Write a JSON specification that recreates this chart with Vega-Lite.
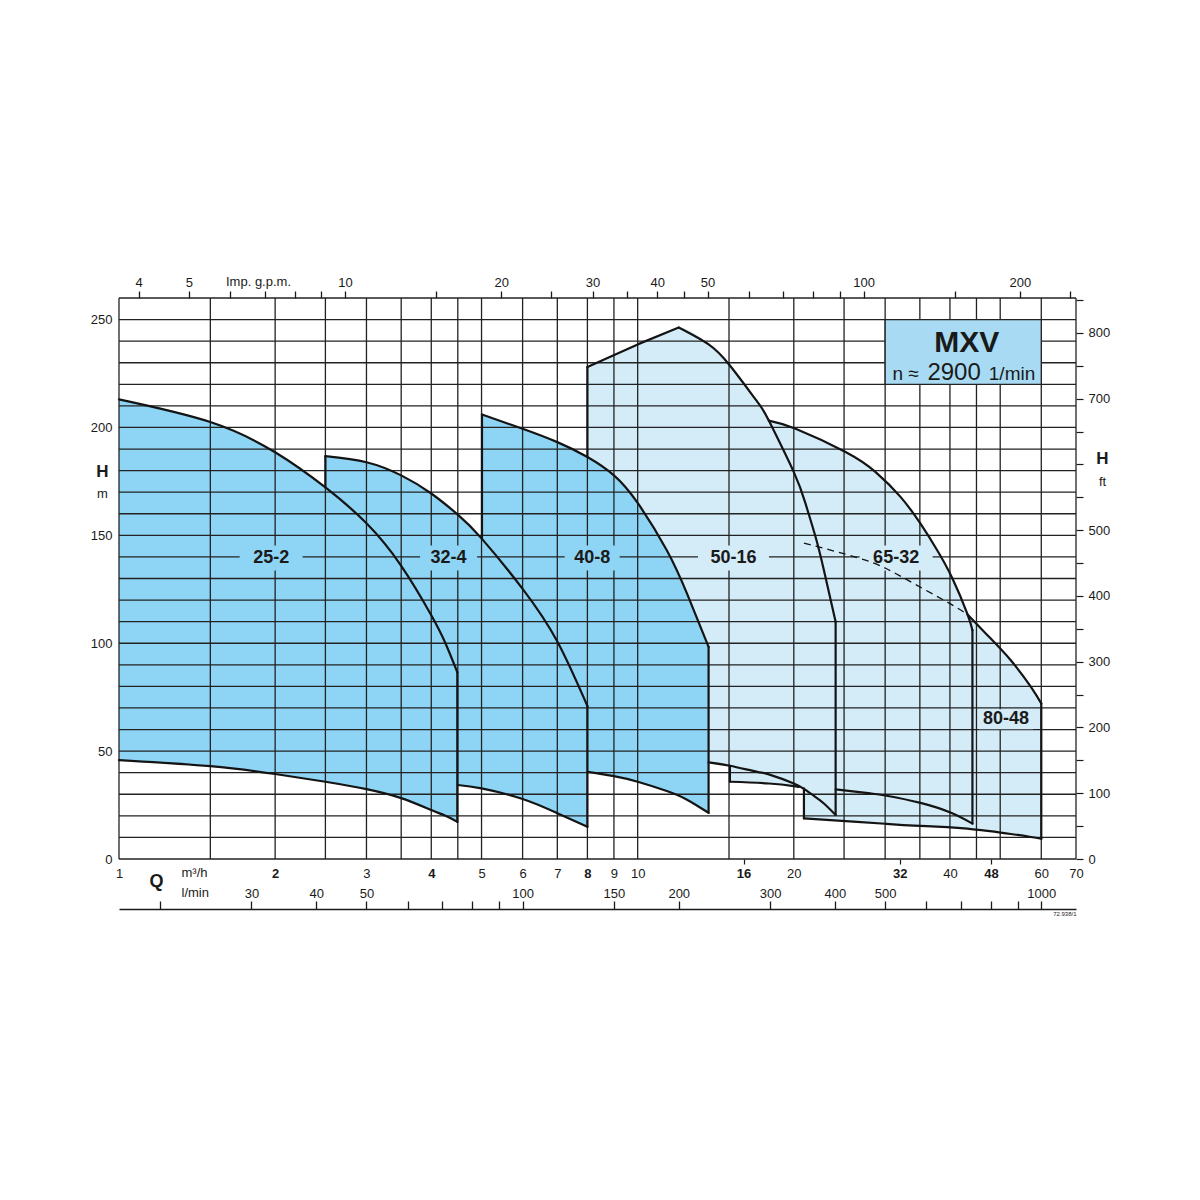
{
  "$schema": "https://vega.github.io/schema/vega-lite/v6.json",
  "width": 957,
  "height": 561,
  "autosize": {"type": "none"},
  "padding": {"left": 119, "top": 298, "right": 124, "bottom": 341},
  "background": "white",
  "config": {
    "view": {"stroke": null},
    "font": "Liberation Sans",
    "axis": {"labelFont": "Liberation Sans", "titleFont": "Liberation Sans", "labelColor": "#1a1a1a", "titleColor": "#1a1a1a", "grid": false, "labelOverlap": false, "labelFlush": false, "labelFontSize": 13}
  },
  "datasets": {
    "fillLight": [
      {"series": "50-16", "Q": 8, "hi": 228, "lo": 52},
      {"series": "50-16", "Q": 9, "hi": 233.5, "lo": 50.5},
      {"series": "50-16", "Q": 10, "hi": 238.5, "lo": 49},
      {"series": "50-16", "Q": 11, "hi": 242.4, "lo": 47.5},
      {"series": "50-16", "Q": 12, "hi": 246.3, "lo": 46.3},
      {"series": "50-16", "Q": 13.66, "hi": 238.7, "lo": 44.8},
      {"series": "50-16", "Q": 15.06, "hi": 228.7, "lo": 43.2},
      {"series": "50-16", "Q": 17, "hi": 212, "lo": 40.4},
      {"series": "50-16", "Q": 17.9, "hi": 203.2, "lo": 39.2},
      {"series": "50-16", "Q": 20, "hi": 179.3, "lo": 35},
      {"series": "50-16", "Q": 21.07, "hi": 164.7, "lo": 32.0},
      {"series": "50-16", "Q": 22.03, "hi": 149.2, "lo": 28.7},
      {"series": "50-16", "Q": 22.86, "hi": 133.8, "lo": 25.7},
      {"series": "50-16", "Q": 24.08, "hi": 110, "lo": 20.4},
      {"series": "65-32", "Q": 15.06, "hi": 206, "lo": 35.8},
      {"series": "65-32", "Q": 17.9, "hi": 203.2, "lo": 35.0},
      {"series": "65-32", "Q": 20.16, "hi": 199.4, "lo": 33.8},
      {"series": "65-32", "Q": 25.17, "hi": 188.6, "lo": 31.9},
      {"series": "65-32", "Q": 28.76, "hi": 179.3, "lo": 30.3},
      {"series": "65-32", "Q": 32.15, "hi": 167.7, "lo": 28.3},
      {"series": "65-32", "Q": 35.1, "hi": 155.4, "lo": 26.0},
      {"series": "65-32", "Q": 37.8, "hi": 143.1, "lo": 24.0},
      {"series": "65-32", "Q": 40.45, "hi": 130, "lo": 21.2},
      {"series": "65-32", "Q": 43.2, "hi": 113.7, "lo": 18.2},
      {"series": "65-32", "Q": 44.2, "hi": 106, "lo": 16.4},
      {"series": "80-48", "Q": 20.92, "hi": 146.4, "lo": 18.8},
      {"series": "80-48", "Q": 26.5, "hi": 139.7, "lo": 17.2},
      {"series": "80-48", "Q": 30.2, "hi": 134.5, "lo": 16.3},
      {"series": "80-48", "Q": 34.1, "hi": 127.6, "lo": 15.5},
      {"series": "80-48", "Q": 39.5, "hi": 119.1, "lo": 14.8},
      {"series": "80-48", "Q": 43.2, "hi": 113.4, "lo": 14.1},
      {"series": "80-48", "Q": 47.25, "hi": 103.7, "lo": 13.0},
      {"series": "80-48", "Q": 52.4, "hi": 92.1, "lo": 11.6},
      {"series": "80-48", "Q": 57.3, "hi": 79.8, "lo": 10.2},
      {"series": "80-48", "Q": 60, "hi": 72.1, "lo": 9.4}
    ],
    "fillDark": [
      {"series": "25-2", "Q": 1, "hi": 213, "lo": 45.8},
      {"series": "25-2", "Q": 1.5, "hi": 202.5, "lo": 43},
      {"series": "25-2", "Q": 2, "hi": 188.5, "lo": 39.4},
      {"series": "25-2", "Q": 2.5, "hi": 172.2, "lo": 35.8},
      {"series": "25-2", "Q": 3, "hi": 155.6, "lo": 32.4},
      {"series": "25-2", "Q": 3.5, "hi": 135.9, "lo": 28.2},
      {"series": "25-2", "Q": 4, "hi": 113, "lo": 22.7},
      {"series": "25-2", "Q": 4.26, "hi": 100.0, "lo": 20.0},
      {"series": "25-2", "Q": 4.49, "hi": 86.6, "lo": 17.2},
      {"series": "32-4", "Q": 2.5, "hi": 186.7, "lo": 48},
      {"series": "32-4", "Q": 3, "hi": 183.9, "lo": 43},
      {"series": "32-4", "Q": 3.5, "hi": 177.8, "lo": 39},
      {"series": "32-4", "Q": 4, "hi": 169.4, "lo": 36.5},
      {"series": "32-4", "Q": 4.5, "hi": 159.6, "lo": 34.3},
      {"series": "32-4", "Q": 5, "hi": 148.6, "lo": 32.7},
      {"series": "32-4", "Q": 6, "hi": 125.2, "lo": 27.8},
      {"series": "32-4", "Q": 7, "hi": 100.8, "lo": 21.2},
      {"series": "32-4", "Q": 8, "hi": 70.9, "lo": 14.9},
      {"series": "40-8", "Q": 5.01, "hi": 206, "lo": 46},
      {"series": "40-8", "Q": 6, "hi": 199.4, "lo": 44},
      {"series": "40-8", "Q": 7, "hi": 193.2, "lo": 42},
      {"series": "40-8", "Q": 8, "hi": 186.3, "lo": 40.4},
      {"series": "40-8", "Q": 9, "hi": 177.8, "lo": 38.4},
      {"series": "40-8", "Q": 10, "hi": 165, "lo": 35.8},
      {"series": "40-8", "Q": 11.38, "hi": 143.1, "lo": 31.5},
      {"series": "40-8", "Q": 12.45, "hi": 123, "lo": 27.5},
      {"series": "40-8", "Q": 13.7, "hi": 98.3, "lo": 21.4}
    ],
    "vgrid": [
      {"Q": 1}, {"Q": 1.5}, {"Q": 2}, {"Q": 2.5}, {"Q": 3}, {"Q": 3.5}, {"Q": 4}, {"Q": 4.5}, {"Q": 5}, {"Q": 6}, {"Q": 7}, {"Q": 8}, {"Q": 9}, {"Q": 10},
      {"Q": 15}, {"Q": 20}, {"Q": 25}, {"Q": 30}, {"Q": 35}, {"Q": 40}, {"Q": 45}, {"Q": 50}, {"Q": 60}, {"Q": 70}
    ],
    "hgrid": [
      {"H": 0}, {"H": 10}, {"H": 20}, {"H": 30}, {"H": 40}, {"H": 50}, {"H": 60}, {"H": 70}, {"H": 80}, {"H": 90},
      {"H": 100}, {"H": 110}, {"H": 120}, {"H": 130}, {"H": 140}, {"H": 150}, {"H": 160}, {"H": 170}, {"H": 180},
      {"H": 190}, {"H": 200}, {"H": 210}, {"H": 220}, {"H": 230}, {"H": 240}, {"H": 250}, {"H": 260}
    ],
    "outline": [
      {"seg": "25-2 hi", "Q": 1, "H": 213}, {"seg": "25-2 hi", "Q": 1.5, "H": 202.5}, {"seg": "25-2 hi", "Q": 2, "H": 188.5},
      {"seg": "25-2 hi", "Q": 2.5, "H": 172.2}, {"seg": "25-2 hi", "Q": 3, "H": 155.6}, {"seg": "25-2 hi", "Q": 3.5, "H": 135.9},
      {"seg": "25-2 hi", "Q": 4, "H": 113}, {"seg": "25-2 hi", "Q": 4.26, "H": 100.0}, {"seg": "25-2 hi", "Q": 4.49, "H": 86.6},
      {"seg": "25-2 lo", "Q": 1, "H": 45.8}, {"seg": "25-2 lo", "Q": 1.5, "H": 43}, {"seg": "25-2 lo", "Q": 2, "H": 39.4},
      {"seg": "25-2 lo", "Q": 2.5, "H": 35.8}, {"seg": "25-2 lo", "Q": 3, "H": 32.4}, {"seg": "25-2 lo", "Q": 3.5, "H": 28.2},
      {"seg": "25-2 lo", "Q": 4, "H": 22.7}, {"seg": "25-2 lo", "Q": 4.26, "H": 20.0}, {"seg": "25-2 lo", "Q": 4.49, "H": 17.2},
      {"seg": "32-4 hi", "Q": 2.5, "H": 186.7}, {"seg": "32-4 hi", "Q": 3, "H": 183.9}, {"seg": "32-4 hi", "Q": 3.5, "H": 177.8},
      {"seg": "32-4 hi", "Q": 4, "H": 169.4}, {"seg": "32-4 hi", "Q": 4.5, "H": 159.6}, {"seg": "32-4 hi", "Q": 5, "H": 148.6},
      {"seg": "32-4 hi", "Q": 6, "H": 125.2}, {"seg": "32-4 hi", "Q": 7, "H": 100.8}, {"seg": "32-4 hi", "Q": 8, "H": 70.9},
      {"seg": "32-4 lo", "Q": 4.5, "H": 34.3}, {"seg": "32-4 lo", "Q": 5, "H": 32.7}, {"seg": "32-4 lo", "Q": 6, "H": 27.8},
      {"seg": "32-4 lo", "Q": 7, "H": 21.2}, {"seg": "32-4 lo", "Q": 8, "H": 14.9},
      {"seg": "40-8 hi", "Q": 5.01, "H": 206}, {"seg": "40-8 hi", "Q": 6, "H": 199.4}, {"seg": "40-8 hi", "Q": 7, "H": 193.2},
      {"seg": "40-8 hi", "Q": 8, "H": 186.3}, {"seg": "40-8 hi", "Q": 9, "H": 177.8}, {"seg": "40-8 hi", "Q": 10, "H": 165},
      {"seg": "40-8 hi", "Q": 11.38, "H": 143.1}, {"seg": "40-8 hi", "Q": 12.45, "H": 123}, {"seg": "40-8 hi", "Q": 13.7, "H": 98.3},
      {"seg": "40-8 lo", "Q": 8, "H": 40.4}, {"seg": "40-8 lo", "Q": 9, "H": 38.4}, {"seg": "40-8 lo", "Q": 10, "H": 35.8},
      {"seg": "40-8 lo", "Q": 11.38, "H": 31.5}, {"seg": "40-8 lo", "Q": 12.45, "H": 27.5}, {"seg": "40-8 lo", "Q": 13.7, "H": 21.4},
      {"seg": "50-16 hi", "Q": 12, "H": 246.3}, {"seg": "50-16 hi", "Q": 13.66, "H": 238.7}, {"seg": "50-16 hi", "Q": 15.06, "H": 228.7},
      {"seg": "50-16 hi", "Q": 17, "H": 212}, {"seg": "50-16 hi", "Q": 17.9, "H": 203.2}, {"seg": "50-16 hi", "Q": 20, "H": 179.3},
      {"seg": "50-16 hi", "Q": 21.07, "H": 164.7}, {"seg": "50-16 hi", "Q": 22.03, "H": 149.2}, {"seg": "50-16 hi", "Q": 22.86, "H": 133.8},
      {"seg": "50-16 hi", "Q": 24.08, "H": 110},
      {"seg": "50-16 lo", "Q": 13.7, "H": 44.8}, {"seg": "50-16 lo", "Q": 15.06, "H": 43.2}, {"seg": "50-16 lo", "Q": 17, "H": 40.4},
      {"seg": "50-16 lo", "Q": 17.9, "H": 39.2}, {"seg": "50-16 lo", "Q": 20, "H": 35}, {"seg": "50-16 lo", "Q": 21.07, "H": 32.0},
      {"seg": "50-16 lo", "Q": 22.03, "H": 28.7}, {"seg": "50-16 lo", "Q": 22.86, "H": 25.7}, {"seg": "50-16 lo", "Q": 24.08, "H": 20.4},
      {"seg": "65-32 hi", "Q": 17.9, "H": 203.2}, {"seg": "65-32 hi", "Q": 20.16, "H": 199.4}, {"seg": "65-32 hi", "Q": 25.17, "H": 188.6},
      {"seg": "65-32 hi", "Q": 28.76, "H": 179.3}, {"seg": "65-32 hi", "Q": 32.15, "H": 167.7}, {"seg": "65-32 hi", "Q": 35.1, "H": 155.4},
      {"seg": "65-32 hi", "Q": 37.8, "H": 143.1}, {"seg": "65-32 hi", "Q": 40.45, "H": 130}, {"seg": "65-32 hi", "Q": 43.2, "H": 113.7},
      {"seg": "65-32 hi", "Q": 44.2, "H": 106},
      {"seg": "65-32 lo a", "Q": 15.06, "H": 35.8}, {"seg": "65-32 lo a", "Q": 17.9, "H": 35.0}, {"seg": "65-32 lo a", "Q": 20, "H": 33.8},
      {"seg": "65-32 lo a", "Q": 20.45, "H": 33.4},
      {"seg": "65-32 lo b", "Q": 24.08, "H": 32.3}, {"seg": "65-32 lo b", "Q": 28.1, "H": 30.4}, {"seg": "65-32 lo b", "Q": 30.2, "H": 29.3},
      {"seg": "65-32 lo b", "Q": 35.1, "H": 26.0}, {"seg": "65-32 lo b", "Q": 40.3, "H": 21.3},
      {"seg": "65-32 lo b", "Q": 44.2, "H": 16.4},
      {"seg": "80-48 hi", "Q": 43.2, "H": 113.4}, {"seg": "80-48 hi", "Q": 47.25, "H": 103.7}, {"seg": "80-48 hi", "Q": 52.4, "H": 92.1},
      {"seg": "80-48 hi", "Q": 57.3, "H": 79.8}, {"seg": "80-48 hi", "Q": 60, "H": 72.1},
      {"seg": "80-48 lo", "Q": 20.92, "H": 18.8}, {"seg": "80-48 lo", "Q": 26.5, "H": 17.2}, {"seg": "80-48 lo", "Q": 30.2, "H": 16.3},
      {"seg": "80-48 lo", "Q": 34.1, "H": 15.5}, {"seg": "80-48 lo", "Q": 39.5, "H": 14.8}, {"seg": "80-48 lo", "Q": 43.2, "H": 14.1},
      {"seg": "80-48 lo", "Q": 47.25, "H": 13.0}, {"seg": "80-48 lo", "Q": 52.4, "H": 11.6}, {"seg": "80-48 lo", "Q": 57.3, "H": 10.2},
      {"seg": "80-48 lo", "Q": 60, "H": 9.4}
    ],
    "rise": [
      {"Q": 8, "H": 228}, {"Q": 10, "H": 238.5}, {"Q": 12, "H": 246.3}
    ],
    "dashed": [
      {"Q": 20.92, "H": 146.4}, {"Q": 26.5, "H": 139.7}, {"Q": 30.2, "H": 134.5}, {"Q": 34.1, "H": 127.6}, {"Q": 39.5, "H": 119.1}, {"Q": 43.2, "H": 113.4}
    ],
    "edges": [
      {"Q": 4.49, "H1": 17.2, "H2": 86.6},
      {"Q": 2.5, "H1": 172.2, "H2": 186.7},
      {"Q": 8, "H1": 14.9, "H2": 70.9},
      {"Q": 5.01, "H1": 148.6, "H2": 206},
      {"Q": 13.7, "H1": 21.4, "H2": 98.3},
      {"Q": 8, "H1": 186.3, "H2": 228},
      {"Q": 24.08, "H1": 20.4, "H2": 110},
      {"Q": 15.06, "H1": 35.8, "H2": 43.2},
      {"Q": 44.2, "H1": 16.4, "H2": 106},
      {"Q": 20.92, "H1": 18.8, "H2": 32.7},
      {"Q": 60, "H1": 9.4, "H2": 72.1}
    ],
    "labels": [
      {"name": "25-2", "Q": 1.965, "H": 139.5},
      {"name": "32-4", "Q": 4.32, "H": 139.5},
      {"name": "40-8", "Q": 8.17, "H": 139.5},
      {"name": "50-16", "Q": 15.3, "H": 139.5},
      {"name": "65-32", "Q": 31.5, "H": 139.5},
      {"name": "80-48", "Q": 51.3, "H": 64.8}
    ],
    "box": [{"Q1": 30, "Q2": 60, "H1": 220, "H2": 250}],
    "boxText": [
      {"t": "MXV", "Q": 43.1, "H": 234.9},
      {"t": "n ≈", "Q": 30.98, "H": 222.2},
      {"t": "2900", "Q": 36.19, "H": 222.2},
      {"t": "1/min", "Q": 47.53, "H": 222.2}
    ]
  },
  "resolve": {"axis": {"x": "independent", "y": "independent"}},
  "layer": [
    {
      "data": {"name": "fillLight"},
      "mark": {"type": "area", "interpolate": "monotone", "opacity": 1},
      "encoding": {
        "x": {"field": "Q", "type": "quantitative", "scale": {"type": "log", "domain": [1, 70], "nice": false},
          "axis": {"orient": "bottom", "values": [1, 2, 3, 4, 5, 6, 7, 8, 9, 10, 16, 20, 32, 40, 48, 60, 70], "format": "d",
            "labelFontWeight": {"condition": {"test": "datum.value == 2 || datum.value == 4 || datum.value == 8 || datum.value == 16 || datum.value == 32 || datum.value == 48", "value": "bold"}, "value": "normal"},
            "ticks": true, "tickSize": 5, "tickColor": "#1a1a1a", "tickWidth": 1.2,
            "tickOpacity": {"condition": {"test": "datum.value == 16 || datum.value == 32 || datum.value == 48", "value": 1}, "value": 0},
            "labelPadding": 3, "domain": false, "labelFlush": false, "labelOverlap": false,
            "title": "m³/h", "titleX": 62, "titleY": 13, "titleAlign": "left", "titleBaseline": "middle", "titleAngle": 0, "titleFontWeight": "normal", "titleFontSize": 13}},
        "y": {"field": "hi", "type": "quantitative", "stack": null, "scale": {"domain": [0, 260], "nice": false, "zero": false},
          "axis": {"orient": "left", "values": [0, 50, 100, 150, 200, 250], "ticks": false, "domain": false, "labelPadding": 7,
            "title": "H", "titleX": -17, "titleY": 173, "titleAngle": 0, "titleAlign": "center", "titleBaseline": "middle", "titleFontSize": 17, "titleFontWeight": "bold"}},
        "y2": {"field": "lo"},
        "color": {"field": "series", "type": "nominal", "legend": null,
          "scale": {"domain": ["25-2", "32-4", "40-8", "50-16", "65-32", "80-48"], "range": ["#8ed5f5", "#8ed5f5", "#8ed5f5", "#d3ecf8", "#d3ecf8", "#d3ecf8"]}}
      }
    },
    {
      "data": {"name": "fillDark"},
      "mark": {"type": "area", "interpolate": "monotone", "opacity": 1},
      "encoding": {
        "x": {"field": "Q", "type": "quantitative", "scale": {"type": "log", "domain": [1, 70], "nice": false},
          "axis": {"orient": "top", "offset": -611, "values": [1.2, 1.8, 2.4, 3, 3.6, 4.2, 4.8, 5.4, 6, 9, 12, 18, 24, 30, 36, 42, 48, 54, 60],
            "labelExpr": "(round(datum.value*50/3) == 30 || round(datum.value*50/3) == 40 || round(datum.value*50/3) == 50 || round(datum.value*50/3) == 100 || round(datum.value*50/3) == 150 || round(datum.value*50/3) == 200 || round(datum.value*50/3) == 300 || round(datum.value*50/3) == 400 || round(datum.value*50/3) == 500 || round(datum.value*50/3) == 1000) ? '' + round(datum.value*50/3) : ''",
            "ticks": true, "tickSize": 8, "tickColor": "#1a1a1a", "tickWidth": 1.3, "domain": true, "domainColor": "#1a1a1a", "domainWidth": 1.5,
            "labelPadding": 1, "labelFlush": false, "labelOverlap": false,
            "title": "l/min", "titleX": 62, "titleY": -17, "titleAlign": "left", "titleBaseline": "middle", "titleAngle": 0, "titleFontWeight": "normal", "titleFontSize": 13}},
        "y": {"field": "hi", "type": "quantitative", "stack": null, "scale": {"domain": [0, 260], "nice": false, "zero": false},
          "axis": {"orient": "left", "labels": false, "ticks": false, "domain": false,
            "title": "m", "titleX": -17, "titleY": 195, "titleAngle": 0, "titleAlign": "center", "titleBaseline": "middle", "titleFontSize": 13, "titleFontWeight": "normal"}},
        "y2": {"field": "lo"},
        "color": {"field": "series", "type": "nominal", "legend": null,
          "scale": {"domain": ["25-2", "32-4", "40-8", "50-16", "65-32", "80-48"], "range": ["#8ed5f5", "#8ed5f5", "#8ed5f5", "#d3ecf8", "#d3ecf8", "#d3ecf8"]}}
      }
    },
    {
      "data": {"name": "vgrid"},
      "mark": {"type": "rule", "color": "#222222", "strokeWidth": 1.3},
      "encoding": {
        "x": {"field": "Q", "type": "quantitative", "scale": {"type": "log", "domain": [1, 70], "nice": false},
          "axis": {"orient": "top", "values": [1.09106, 1.36383, 1.63659, 1.90936, 2.18213, 2.45489, 2.72766, 4.09148, 5.45531, 6.81914, 8.18297, 9.5468, 10.9106, 12.2745, 13.6383, 16.3659, 19.0936, 21.8213, 24.5489, 27.2766, 40.9148, 54.5531, 68.1914],
            "labelExpr": "(round(datum.value*3.66615) == 4 || round(datum.value*3.66615) == 5 || round(datum.value*3.66615) == 10 || round(datum.value*3.66615) == 20 || round(datum.value*3.66615) == 30 || round(datum.value*3.66615) == 40 || round(datum.value*3.66615) == 50 || round(datum.value*3.66615) == 100 || round(datum.value*3.66615) == 200) ? '' + round(datum.value*3.66615) : ''",
            "ticks": true, "tickSize": 7, "tickColor": "#1a1a1a", "tickWidth": 1.3, "domain": false, "labelPadding": 2, "labelFlush": false, "labelOverlap": false,
            "title": "Imp. g.p.m.", "titleX": 139, "titleY": -17, "titleAlign": "center", "titleBaseline": "middle", "titleAngle": 0, "titleFontWeight": "normal", "titleFontSize": 13}}
      }
    },
    {
      "data": {"name": "hgrid"},
      "mark": {"type": "rule", "color": "#222222", "strokeWidth": 1.3},
      "encoding": {
        "y": {"field": "H", "type": "quantitative", "scale": {"domain": [0, 260], "nice": false, "zero": false},
          "axis": {"orient": "right", "values": [0, 15.24, 30.48, 45.72, 60.96, 76.2, 91.44, 106.68, 121.92, 137.16, 152.4, 167.64, 182.88, 198.12, 213.36, 228.6, 243.84, 259.08],
            "labelExpr": "(round(datum.value/0.3048) % 100 == 0 && round(datum.value/0.3048) != 600) ? '' + round(datum.value/0.3048) : ''",
            "ticks": true, "tickSize": 7, "tickColor": "#1a1a1a", "tickWidth": 1.2, "domain": false, "labelPadding": 5, "labelOverlap": false,
            "title": "H", "titleX": 26, "titleY": 160, "titleAngle": 0, "titleAlign": "center", "titleBaseline": "middle", "titleFontSize": 17, "titleFontWeight": "bold"}}
      }
    },
    {
      "data": {"name": "labels"},
      "mark": {"type": "point", "filled": true, "opacity": 1, "size": 625, "strokeWidth": 0},
      "encoding": {
        "x": {"field": "Q", "type": "quantitative", "scale": {"type": "log", "domain": [1, 70], "nice": false},
          "axis": {"orient": "bottom", "labels": false, "ticks": false, "domain": false,
            "title": "Q", "titleX": 37, "titleY": 22, "titleAlign": "center", "titleBaseline": "middle", "titleAngle": 0, "titleFontSize": 18, "titleFontWeight": "bold"}},
        "y": {"field": "H", "type": "quantitative", "scale": {"domain": [0, 260], "nice": false, "zero": false},
          "axis": {"orient": "right", "labels": false, "ticks": false, "domain": false,
            "title": "ft", "titleX": 26, "titleY": 183, "titleAngle": 0, "titleAlign": "center", "titleBaseline": "middle", "titleFontSize": 13, "titleFontWeight": "normal"}},
        "color": {"field": "name", "type": "nominal", "legend": null,
          "scale": {"domain": ["25-2", "32-4", "40-8", "50-16", "65-32", "80-48"], "range": ["#8ed5f5", "#8ed5f5", "#8ed5f5", "#d3ecf8", "#d3ecf8", "#d3ecf8"]}},
        "shape": {"field": "name", "type": "nominal", "legend": null,
          "scale": {"domain": ["25-2", "32-4", "40-8", "50-16", "65-32", "80-48"],
            "range": ["M-2.52,-1H2.52V1H-2.52Z", "M-2.28,-1H2.28V1H-2.28Z", "M-2.2,-1H2.2V1H-2.2Z", "M-2.84,-1H2.84V1H-2.84Z", "M-2.92,-1H2.92V1H-2.92Z", "M-2.16,-0.8H2.16V0.8H-2.16Z"]}}
      }
    },
    {
      "data": {"name": "box"},
      "mark": {"type": "rect", "fill": "#a8dbf3", "stroke": "#222222", "strokeWidth": 1.3},
      "encoding": {
        "x": {"field": "Q1", "type": "quantitative", "scale": {"type": "log", "domain": [1, 70], "nice": false}, "axis": null},
        "x2": {"field": "Q2"},
        "y": {"field": "H1", "type": "quantitative", "scale": {"domain": [0, 260], "nice": false, "zero": false}, "axis": null},
        "y2": {"field": "H2"}
      }
    },
    {
      "data": {"name": "outline"},
      "mark": {"type": "line", "interpolate": "natural", "color": "#141414", "strokeWidth": 2.2, "strokeCap": "round", "strokeJoin": "round"},
      "encoding": {
        "x": {"field": "Q", "type": "quantitative", "scale": {"type": "log", "domain": [1, 70], "nice": false}, "axis": null},
        "y": {"field": "H", "type": "quantitative", "scale": {"domain": [0, 260], "nice": false, "zero": false}, "axis": null},
        "detail": {"field": "seg", "type": "nominal"}
      }
    },
    {
      "data": {"name": "rise"},
      "mark": {"type": "line", "interpolate": "linear", "color": "#141414", "strokeWidth": 2.2, "strokeCap": "round", "strokeJoin": "round"},
      "encoding": {
        "x": {"field": "Q", "type": "quantitative", "scale": {"type": "log", "domain": [1, 70], "nice": false}, "axis": null},
        "y": {"field": "H", "type": "quantitative", "scale": {"domain": [0, 260], "nice": false, "zero": false}, "axis": null}
      }
    },
    {
      "data": {"name": "dashed"},
      "mark": {"type": "line", "interpolate": "natural", "color": "#141414", "strokeWidth": 1.3, "strokeDash": [7, 5]},
      "encoding": {
        "x": {"field": "Q", "type": "quantitative", "scale": {"type": "log", "domain": [1, 70], "nice": false}, "axis": null},
        "y": {"field": "H", "type": "quantitative", "scale": {"domain": [0, 260], "nice": false, "zero": false}, "axis": null}
      }
    },
    {
      "data": {"name": "edges"},
      "mark": {"type": "rule", "color": "#141414", "strokeWidth": 2.2, "strokeCap": "round"},
      "encoding": {
        "x": {"field": "Q", "type": "quantitative", "scale": {"type": "log", "domain": [1, 70], "nice": false}, "axis": null},
        "y": {"field": "H1", "type": "quantitative", "scale": {"domain": [0, 260], "nice": false, "zero": false}, "axis": null},
        "y2": {"field": "H2"}
      }
    },
    {
      "data": {"name": "labels"},
      "mark": {"type": "text", "font": "Liberation Sans", "fontWeight": "bold", "fontSize": 18, "color": "#1a1a1a", "align": "center", "baseline": "middle"},
      "encoding": {
        "x": {"field": "Q", "type": "quantitative", "scale": {"type": "log", "domain": [1, 70], "nice": false},
          "axis": {"orient": "bottom", "labels": false, "ticks": false, "domain": false,
            "title": "72.938/1", "titleX": 957, "titleY": 54, "titleAlign": "right", "titleBaseline": "middle", "titleAngle": 0, "titleFontSize": 6, "titleFontWeight": "normal"}},
        "y": {"field": "H", "type": "quantitative", "scale": {"domain": [0, 260], "nice": false, "zero": false}, "axis": null},
        "text": {"field": "name"}
      }
    },
    {
      "data": {"name": "boxText"},
      "transform": [{"filter": "datum.t == 'MXV'"}],
      "mark": {"type": "text", "font": "Liberation Sans", "fontWeight": "bold", "fontSize": 30, "color": "#1a1a1a", "align": "center", "baseline": "alphabetic"},
      "encoding": {
        "x": {"field": "Q", "type": "quantitative", "scale": {"type": "log", "domain": [1, 70], "nice": false}, "axis": null},
        "y": {"field": "H", "type": "quantitative", "scale": {"domain": [0, 260], "nice": false, "zero": false}, "axis": null},
        "text": {"field": "t"}
      }
    },
    {
      "data": {"name": "boxText"},
      "transform": [{"filter": "datum.t == '2900'"}],
      "mark": {"type": "text", "font": "Liberation Sans", "fontSize": 24, "color": "#1a1a1a", "align": "left", "baseline": "alphabetic"},
      "encoding": {
        "x": {"field": "Q", "type": "quantitative", "scale": {"type": "log", "domain": [1, 70], "nice": false}, "axis": null},
        "y": {"field": "H", "type": "quantitative", "scale": {"domain": [0, 260], "nice": false, "zero": false}, "axis": null},
        "text": {"field": "t"}
      }
    },
    {
      "data": {"name": "boxText"},
      "transform": [{"filter": "datum.t != '2900' && datum.t != 'MXV'"}],
      "mark": {"type": "text", "font": "Liberation Sans", "fontSize": 19, "color": "#1a1a1a", "align": "left", "baseline": "alphabetic"},
      "encoding": {
        "x": {"field": "Q", "type": "quantitative", "scale": {"type": "log", "domain": [1, 70], "nice": false}, "axis": null},
        "y": {"field": "H", "type": "quantitative", "scale": {"domain": [0, 260], "nice": false, "zero": false}, "axis": null},
        "text": {"field": "t"}
      }
    }
  ]
}
